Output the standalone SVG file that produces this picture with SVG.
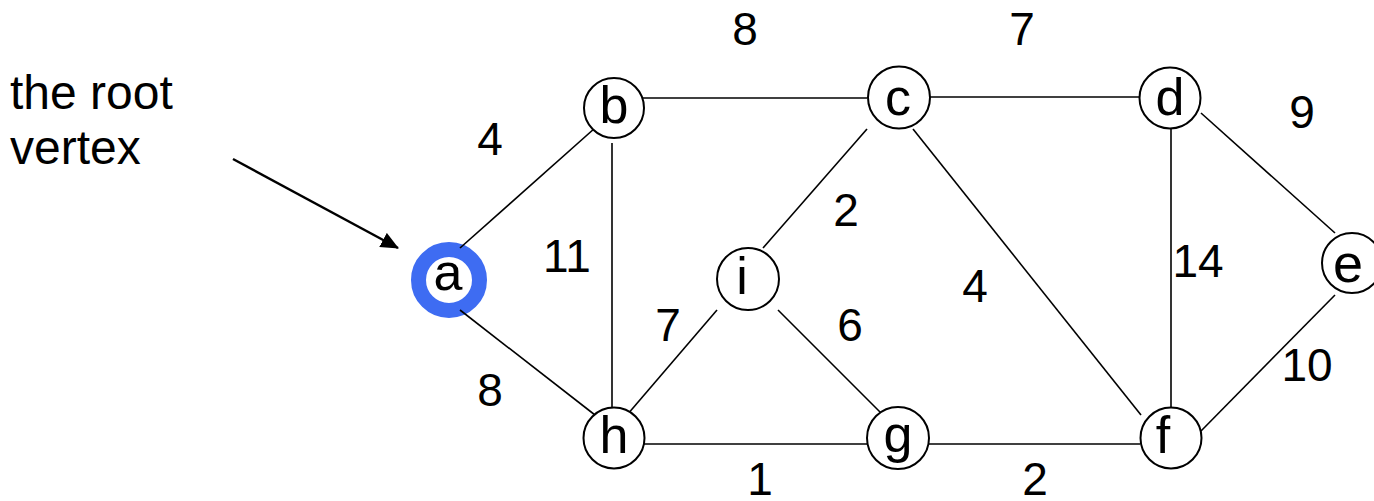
<svg xmlns="http://www.w3.org/2000/svg" width="1374" height="501" viewBox="0 0 1374 501">
<style>
.edge{stroke:#000;stroke-width:1.6;fill:none}
.node{fill:#fff;stroke:#000;stroke-width:2}
.nl{font-family:"Liberation Sans",Arial,sans-serif;font-size:52px;fill:#000;text-anchor:middle}
.lbl{font-family:"Liberation Sans",Arial,sans-serif;font-size:46px;fill:#000;text-anchor:middle}
.txt{font-family:"Liberation Sans",Arial,sans-serif;font-size:48px;fill:#000}
</style>
<defs>
<marker id="arrowhead" viewBox="0 0 18 16" refX="17" refY="8" markerWidth="18" markerHeight="16" orient="auto" markerUnits="userSpaceOnUse">
<path d="M0,0 L18,8 L0,16 z" fill="#000"/>
</marker>
</defs>
<g id="annotation">
<text class="txt" x="10" y="109">the root</text>
<text class="txt" x="10" y="164">vertex</text>
<line x1="233" y1="159" x2="398" y2="248" stroke="#000" stroke-width="2.5" marker-end="url(#arrowhead)"/>
</g>
<g id="node-a">
<circle cx="449" cy="280" r="30.5" fill="#fff" stroke="#3E6CF2" stroke-width="15"/>
<text class="nl" x="448" y="290">a</text>
</g>
<g id="connectors">
<line class="edge" x1="460" y1="248" x2="595" y2="128"/>
<line class="edge" x1="460" y1="310" x2="595" y2="415"/>
<line class="edge" x1="643" y1="98" x2="867" y2="98"/>
<line class="edge" x1="612" y1="143" x2="612" y2="414"/>
<line class="edge" x1="930" y1="97" x2="1139" y2="97"/>
<line class="edge" x1="867" y1="129" x2="763" y2="248"/>
<line class="edge" x1="913" y1="129" x2="1141" y2="415"/>
<line class="edge" x1="1201" y1="113" x2="1335" y2="233"/>
<line class="edge" x1="1171" y1="129" x2="1171" y2="415"/>
<line class="edge" x1="1335" y1="295" x2="1201" y2="431"/>
<line class="edge" x1="717" y1="310" x2="627" y2="415"/>
<line class="edge" x1="778" y1="310" x2="882" y2="414"/>
<line class="edge" x1="643" y1="444" x2="867" y2="444"/>
<line class="edge" x1="929" y1="444" x2="1140" y2="444"/>
</g>
<g id="node-b"><circle class="node" cx="614" cy="108" r="30"/><text class="nl" x="614" y="123">b</text></g>
<g id="node-c"><circle class="node" cx="899" cy="97.5" r="31"/><text class="nl" x="898" y="115">c</text></g>
<g id="node-d"><circle class="node" cx="1170" cy="98" r="30.5"/><text class="nl" x="1170" y="115">d</text></g>
<g id="node-e"><circle class="node" cx="1352" cy="263" r="30"/><text class="nl" x="1348" y="282" style="font-size:54px">e</text></g>
<g id="node-i"><circle class="node" cx="748" cy="279" r="31"/><text class="nl" x="742" y="294">i</text></g>
<g id="node-h"><circle class="node" cx="614" cy="438" r="30.5"/><text class="nl" x="614" y="453">h</text></g>
<g id="node-g"><circle class="node" cx="898" cy="438" r="31"/><text class="nl" x="898" y="452">g</text></g>
<g id="node-f"><circle class="node" cx="1171" cy="438" r="30.5"/><text class="nl" x="1163" y="453">f</text></g>
<g id="labels">
<text class="lbl" x="745" y="45">8</text>
<text class="lbl" x="1022" y="45">7</text>
<text class="lbl" x="490" y="155">4</text>
<text class="lbl" x="1302" y="128">9</text>
<text class="lbl" x="567" y="272">11</text>
<text class="lbl" x="846" y="226">2</text>
<text class="lbl" x="1198" y="277">14</text>
<text class="lbl" x="975" y="302">4</text>
<text class="lbl" x="668" y="341">7</text>
<text class="lbl" x="850" y="341">6</text>
<text class="lbl" x="1307" y="381">10</text>
<text class="lbl" x="490" y="406">8</text>
<text class="lbl" x="760" y="495">1</text>
<text class="lbl" x="1035" y="495">2</text>
</g>
</svg>
